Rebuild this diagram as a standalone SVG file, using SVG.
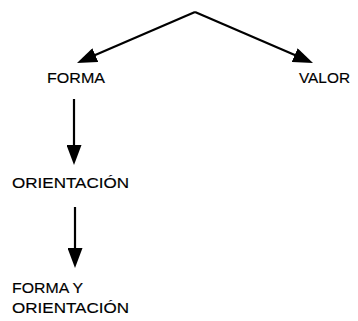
<svg xmlns="http://www.w3.org/2000/svg" width="358" height="321" viewBox="0 0 358 321">
<defs>
<style>
.lbl{font-family:"Liberation Sans",Arial,sans-serif;font-size:14.5px;fill:#000;stroke:#000;stroke-width:0.15;}
.conn{stroke:#000;stroke-width:2.2;fill:none;}
</style>
<marker id="ah" markerUnits="userSpaceOnUse" markerWidth="20" markerHeight="15" refX="9" refY="7.5" orient="auto" viewBox="0 0 20 15">
<path d="M0,0 L20,7.5 L0,15 z" fill="#000"/>
</marker>
</defs>
<rect width="358" height="321" fill="#fff"/>
<g id="connectors">
<line class="conn" x1="195" y1="12" x2="87.1" y2="58.6" marker-end="url(#ah)"/>
<line class="conn" x1="195" y1="12" x2="302.9" y2="58.6" marker-end="url(#ah)"/>
<line class="conn" x1="74" y1="99" x2="74" y2="154" marker-end="url(#ah)"/>
<line class="conn" x1="75" y1="207" x2="75" y2="257" marker-end="url(#ah)"/>
</g>
<g id="forma"><text class="lbl" x="47" y="83" textLength="58" lengthAdjust="spacingAndGlyphs">FORMA</text></g>
<g id="valor"><text class="lbl" x="299" y="83" textLength="51" lengthAdjust="spacingAndGlyphs">VALOR</text></g>
<g id="orientacion"><text class="lbl" x="12" y="188" textLength="117" lengthAdjust="spacingAndGlyphs">ORIENTACIÓN</text></g>
<g id="forma-orientacion">
<text class="lbl" x="12" y="293" textLength="71" lengthAdjust="spacingAndGlyphs">FORMA Y</text>
<text class="lbl" x="12" y="313" textLength="117" lengthAdjust="spacingAndGlyphs">ORIENTACIÓN</text>
</g>
</svg>
